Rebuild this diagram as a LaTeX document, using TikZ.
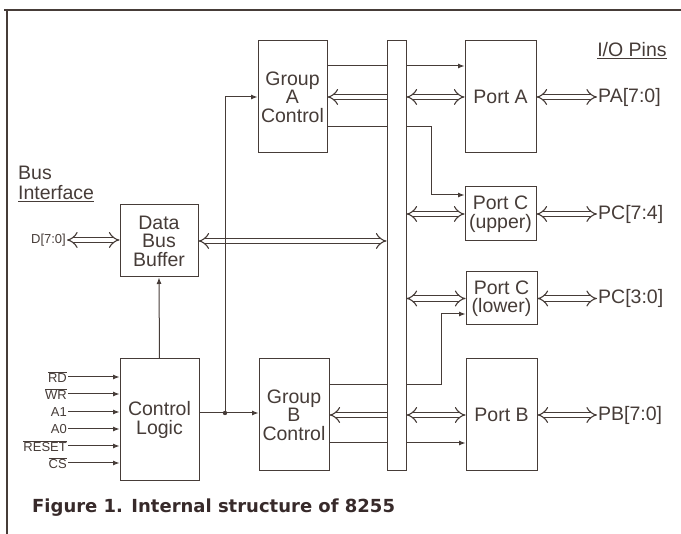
\documentclass[tikz,border=0pt]{standalone}
\usepackage{fontspec}
\setmainfont{Liberation Sans}
\newfontfamily\capfont{DejaVu Sans}
\usetikzlibrary{arrows.meta, backgrounds}
\definecolor{ink}{RGB}{70,60,56}
\definecolor{capink}{RGB}{55,42,42}
\tikzset{
  box/.style={draw=ink, line width=1pt, fill=white, align=center, inner sep=0pt,
    text=ink, font=\fontsize{19.5}{18.5}\selectfont},
  sig/.style={draw=ink, line width=1pt, -{Latex[length=6.5pt, width=5pt]}},
  hollow/.style={draw=ink, line width=1.1pt, double=white, double distance=4.5pt,
    >={Implies[length=8pt, width=15pt]}},
  lbl/.style={text=ink, inner sep=1pt, font=\fontsize{19.5}{20}\selectfont},
  slbl/.style={text=ink, inner sep=1pt, font=\fontsize{13}{14}\selectfont}
}

\begin{document}
\begin{tikzpicture}[x=1pt, y=-1pt]
  \useasboundingbox (0,0) rectangle (681,534);
  % frame
  \draw[ink, line width=2.4pt] (4,10) -- (681,10);
  \draw[ink, line width=1.6pt] (7,9) -- (7,534);

  % blocks
  \node[box, minimum width=78pt, minimum height=72pt] (dbb) at (159,241) {Data\\Bus\\Buffer};
  \node[box, minimum width=79pt, minimum height=122pt] (ctl) at (159.5,420) {Control\\Logic};
  \node[box, minimum width=69pt, minimum height=112pt] (gac) at (292.5,97) {Group\\A\\Control};
  \node[box, minimum width=70pt, minimum height=112pt] (gbc) at (294,415) {Group\\B\\Control};
  \node[box, minimum width=19pt, minimum height=430pt] (bus) at (396.5,256) {};
  \node[box, minimum width=71pt, minimum height=112pt] (pa) at (500.5,97) {Port A};
  \node[box, minimum width=71pt, minimum height=54pt] (pcu) at (500.5,214) {Port C\\(upper)};
  \node[box, minimum width=71pt, minimum height=53pt] (pcl) at (501.5,298.5) {Port C\\(lower)};
  \node[box, minimum width=71pt, minimum height=112pt] (pb) at (501.5,415) {Port B};

  % labels
  \node[lbl, anchor=west, align=left] (busif) at (17,184) {Bus\\\underline{Interface}};
  \node[lbl, anchor=base] (iopins) at (632,57) {\underline{I/O Pins}};
  \node[slbl, anchor=east] (dpin) at (67,240) {D[7:0]};

  \foreach \p/\n/\t in {pa/pina/{PA[7:0]}, pcu/pinu/{PC[7:4]},
                        pcl/pinl/{PC[3:0]}, pb/pinb/{PB[7:0]}} {
    \node[lbl, anchor=west] (\n) at (\p.east -| 597,0) {\t};
    \draw[hollow, <->] (\p.east) -- (\n.west);
    \draw[hollow, <->] (bus.east |- \p.west) -- (\p.west);
  }

  \foreach \s/\y/\t in {rd/377/{$\overline{\mbox{RD}}$}, wr/394/{$\overline{\mbox{WR}}$},
                        aone/412/A1, azero/429/A0,
                        rst/446/{$\overline{\mbox{RESET}}$}, cs/463/{$\overline{\mbox{CS}}$}} {
    \node[slbl, anchor=east] (\s) at (68,\y) {\t};
    \draw[sig] (\s.east) -- (ctl.west |- \s.east);
  }

  % data paths
  \draw[hollow, <->] (dpin.east) -- (dbb.west |- dpin.east);
  \draw[hollow, <->] (dbb.east) -- (bus.west |- dbb.east);
  \draw[hollow, ->] (bus.west |- gac.east) -- (gac.east);
  \draw[hollow, ->] (bus.west |- gbc.east) -- (gbc.east);

  % control paths
  \coordinate (j) at (225,413);
  \draw[sig] (ctl.north) -- (dbb.south);
  \draw[sig] (ctl.east |- j) -- (gbc.west |- j);
  \draw[sig] (j) |- (gac.west);
  \fill[ink] (j) circle (2.2pt);
  \begin{scope}[on background layer]
    \draw[sig] (gac.east |- 0,66) -- (pa.west |- 0,66);
    \draw[sig] (gac.east |- 0,127) -| (431,195) -- (pcu.west |- 0,195);
    \draw[sig] (gbc.east |- 0,385) -| (441,314) -- (pcl.west |- 0,314);
    \draw[sig] (gbc.east |- 0,443) -- (pb.west |- 0,443);
  \end{scope}

  \node[anchor=base west, text=capink, inner sep=0pt,
    font=\capfont\bfseries\fontsize{18}{20}\selectfont] (caption) at (32,513)
    {Figure 1. Internal structure of 8255};
\end{tikzpicture}
\end{document}
